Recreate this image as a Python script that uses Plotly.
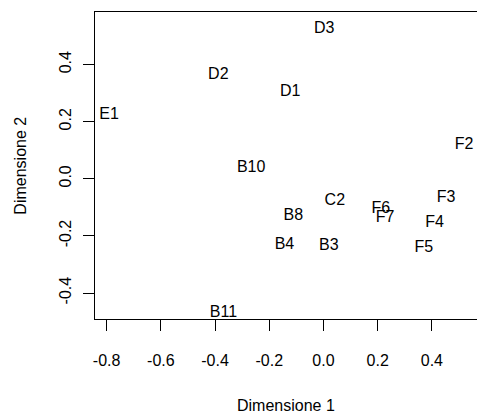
import plotly.graph_objects as go

# Point labels and their coordinates on the two dimensions
labels = ["E1", "D2", "D1", "D3", "B10", "F2", "C2", "B8", "F6", "F7",
          "F3", "F4", "B4", "B3", "F5", "B11"]
dim1 = [-0.791, -0.388, -0.123, 0.003, -0.267, 0.519, 0.042, -0.111, 0.212, 0.227,
        0.452, 0.410, -0.144, 0.020, 0.370, -0.369]
dim2 = [0.224, 0.364, 0.305, 0.526, 0.037, 0.119, -0.078, -0.130, -0.106, -0.138,
        -0.067, -0.155, -0.231, -0.236, -0.242, -0.469]

x_ticks = [-0.8, -0.6, -0.4, -0.2, 0.0, 0.2, 0.4]
y_ticks = [-0.4, -0.2, 0.0, 0.2, 0.4]
x_title = "Dimensione 1"
y_title = "Dimensione 2"

font_family = "Liberation Sans, Arial, Helvetica, sans-serif"

fig = go.Figure(
    go.Scatter(
        x=dim1, y=dim2, text=labels, mode="text",
        textposition="middle center",
        textfont=dict(family=font_family, size=16, color="black"),
        hoverinfo="skip",
    )
)

axis_common = dict(
    showgrid=False, zeroline=False, showline=True, linecolor="black", linewidth=1,
    ticks="outside", ticklen=11, tickcolor="black", tickwidth=1,
    tickfont=dict(family=font_family, size=16, color="black"),
)

fig.update_xaxes(
    range=[-0.843, 0.5665], tickvals=x_ticks,
    ticktext=[f"{v:.1f}" for v in x_ticks], mirror=True,
    ticklabelstandoff=16, **axis_common,
)
fig.update_yaxes(
    range=[-0.491, 0.584], tickvals=y_ticks,
    ticktext=[f"{v:.1f}" for v in y_ticks], tickangle=-90,
    ticklabelstandoff=6, **axis_common,
)

fig.add_annotation(
    text=x_title, xref="paper", yref="paper", x=0.5, y=-0.282,
    xanchor="center", yanchor="middle", showarrow=False,
    font=dict(family=font_family, size=16, color="black"),
)
fig.add_annotation(
    text=y_title, xref="paper", yref="paper", x=-0.196, y=0.5,
    xanchor="center", yanchor="middle", showarrow=False, textangle=-90,
    font=dict(family=font_family, size=16, color="black"),
)

fig.update_layout(
    width=477, height=419,
    margin=dict(l=95, r=0, t=12, b=100),
    paper_bgcolor="white", plot_bgcolor="white",
    showlegend=False,
)

fig.write_html("out.html")
